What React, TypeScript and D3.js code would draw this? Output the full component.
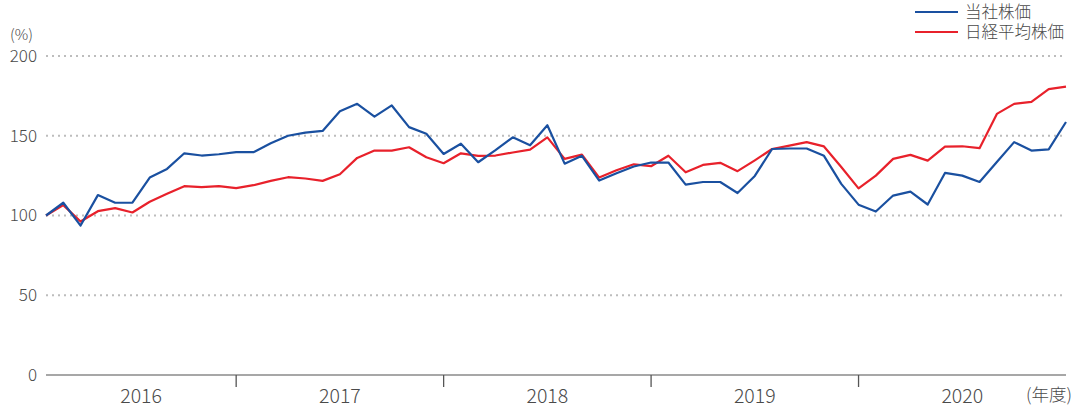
import React, { useEffect, useRef } from "react";
import * as d3 from "d3";

// monthly index values, FY2016 Apr = 100
const companyValues = [
  100, 108, 93.7, 112.8, 108, 108, 123.8, 129.2, 139, 137.6, 138.4, 139.7,
  139.7, 145.3, 150, 152, 153, 165.4, 170, 162, 169, 155.4, 151.2, 138.6,
  145, 133.4, 141, 149, 144, 156.6, 132.5, 137.4, 121.9, 126.5, 130.7, 133.2,
  133.2, 119.4, 121, 121, 114.1, 124.8, 141.7, 142, 142, 137.4, 119.8, 106.8,
  102.5, 112.5, 115, 106.9, 126.7, 125, 121, 133.6, 146, 140.7, 141.5, 158.6,
];
const nikkeiValues = [
  100, 106.5, 96.2, 102.7, 104.6, 101.9, 108.6, 113.6, 118.4, 117.8, 118.4, 117.2,
  119, 121.7, 124, 123.2, 121.7, 125.9, 136.1, 140.7, 140.7, 142.8, 136.5, 132.8,
  139, 137.4, 137.6, 139.5, 141.3, 149, 135.5, 138.2, 123.8, 128.4, 132.1, 130.9,
  137.5, 127.1, 131.7, 133, 127.8, 134.6, 141.7, 143.8, 146, 143.3, 130.4, 117,
  125, 135.5, 138, 134.4, 143.2, 143.4, 142.2, 163.7, 170, 171.2, 179.2, 180.8,
];
const years = ["2016", "2017", "2018", "2019", "2020"];
const yearBounds = [0, 11, 23, 35, 47, 59]; // point index where each fiscal year band starts/ends
const yTicks = [0, 50, 100, 150, 200];
const seriesNames = ["当社株価", "日経平均株価"];
const seriesColors = ["#1a50a0", "#e8212b"];

const W = 1087;
const H = 409;
const margin = { top: 56, right: 21, bottom: 34, left: 46 };

const App = () => {
  const ref = useRef<SVGSVGElement>(null);

  useEffect(() => {
    const svg = d3.select(ref.current);
    svg.selectAll("*").remove();

    const font = "'Noto Sans CJK JP', 'Noto Sans', sans-serif";
    const textColor = "#4a4a4a";

    const x = d3
      .scaleLinear()
      .domain([0, companyValues.length - 1])
      .range([margin.left, W - margin.right]);
    const y = d3
      .scaleLinear()
      .domain([0, 200])
      .range([H - margin.bottom, margin.top]);

    // grid (dotted)
    svg
      .append("g")
      .selectAll("line")
      .data(yTicks.filter((t) => t > 0))
      .join("line")
      .attr("x1", margin.left)
      .attr("x2", W - margin.right - 2)
      .attr("y1", (d) => y(d))
      .attr("y2", (d) => y(d))
      .attr("stroke", "#bdbdbd")
      .attr("stroke-width", 2)
      .attr("stroke-dasharray", "2 4");

    // y labels
    svg
      .append("g")
      .selectAll("text")
      .data(yTicks)
      .join("text")
      .attr("x", 37)
      .attr("y", (d) => y(d))
      .attr("dy", "0.35em")
      .attr("text-anchor", "end")
      .attr("font-family", font)
      .attr("font-weight", 300)
      .attr("font-size", 17)
      .attr("fill", textColor)
      .text((d) => d);

    svg
      .append("text")
      .attr("x", 10)
      .attr("y", 40)
      .attr("font-family", font)
      .attr("font-weight", 300)
      .attr("font-size", 15)
      .attr("fill", textColor)
      .text("(%)");

    // baseline + year separators
    svg
      .append("line")
      .attr("x1", margin.left)
      .attr("x2", W - margin.right)
      .attr("y1", y(0))
      .attr("y2", y(0))
      .attr("stroke", "#8a8a8a")
      .attr("stroke-width", 1.6);

    svg
      .append("g")
      .selectAll("line")
      .data(yearBounds.slice(1, -1))
      .join("line")
      .attr("x1", (d) => x(d))
      .attr("x2", (d) => x(d))
      .attr("y1", y(0))
      .attr("y2", y(0) + 12)
      .attr("stroke", "#555")
      .attr("stroke-width", 1.3);

    svg
      .append("g")
      .selectAll("text")
      .data(years)
      .join("text")
      .attr("x", (d, i) => (x(yearBounds[i]) + x(yearBounds[i + 1])) / 2)
      .attr("y", 403)
      .attr("text-anchor", "middle")
      .attr("font-family", font)
      .attr("font-weight", 300)
      .attr("font-size", 19.5)
      .attr("fill", textColor)
      .text((d) => d);

    svg
      .append("text")
      .attr("x", 1026)
      .attr("y", 401)
      .attr("font-family", font)
      .attr("font-weight", 300)
      .attr("font-size", 17.5)
      .attr("fill", textColor)
      .text("(年度)");

    // lines
    const line = d3
      .line<number>()
      .x((d, i) => x(i))
      .y((d) => y(d));

    [nikkeiValues, companyValues].forEach((vals, k) => {
      svg
        .append("path")
        .datum(vals)
        .attr("fill", "none")
        .attr("stroke", seriesColors[1 - k])
        .attr("stroke-width", 2.2)
        .attr("stroke-linejoin", "round")
        .attr("d", line);
    });

    // legend
    const legend = svg.append("g");
    seriesNames.forEach((name, i) => {
      const ly = 12 + i * 20;
      legend
        .append("line")
        .attr("x1", 915)
        .attr("x2", 958)
        .attr("y1", ly)
        .attr("y2", ly)
        .attr("stroke", seriesColors[i])
        .attr("stroke-width", 2.2);
      legend
        .append("text")
        .attr("x", 965)
        .attr("y", ly)
        .attr("dy", "0.35em")
        .attr("font-family", font)
        .attr("font-weight", 300)
        .attr("font-size", 16.5)
        .attr("fill", textColor)
        .text(name);
    });
  }, []);

  return (
    <svg
      ref={ref}
      width={W}
      height={H}
      style={{ position: "absolute", left: 0, top: 0, background: "#fff" }}
    ></svg>
  );
};

export default App;
